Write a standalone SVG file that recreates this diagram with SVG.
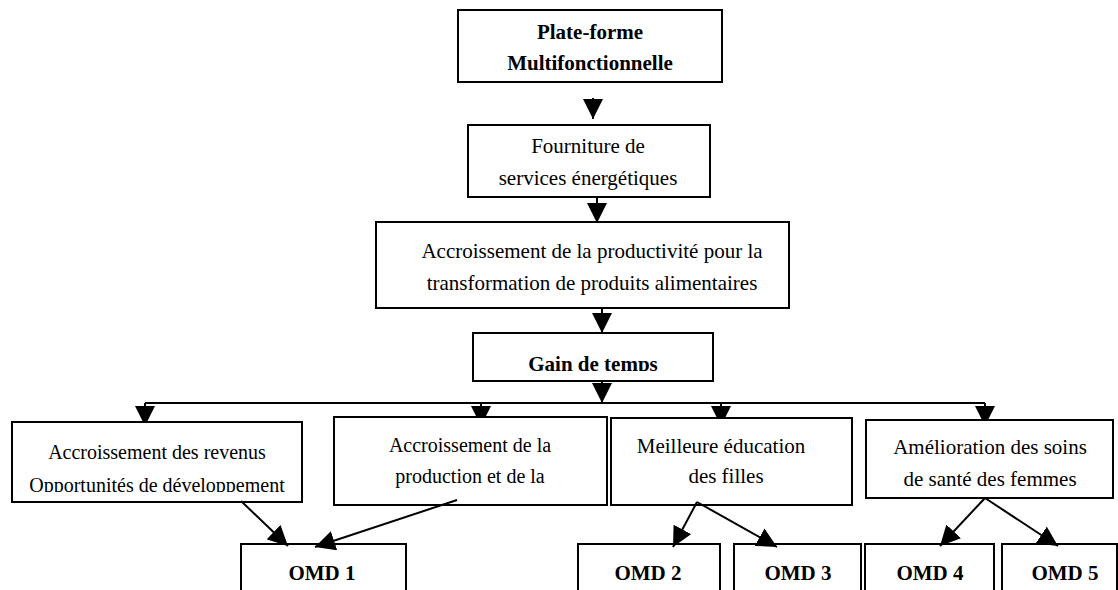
<svg xmlns="http://www.w3.org/2000/svg" width="1118" height="590" viewBox="0 0 1118 590">
<style>
.box{fill:#fff;stroke:#000;stroke-width:2}
.t{font-family:"Liberation Serif","Times New Roman",serif;font-size:21px;fill:#000;text-anchor:middle}
.b{font-weight:bold}
.s20{font-size:20px}
.c{stroke:#000;stroke-width:2;fill:none}
</style>
<defs>
<marker id="ah" markerUnits="userSpaceOnUse" markerWidth="20" markerHeight="20" refX="20" refY="10" orient="auto">
<path d="M0,0 L20,10 L0,20 z" fill="#000"/>
</marker>
<clipPath id="clipGain"><rect x="473" y="333" width="240" height="38"/></clipPath>
<clipPath id="clipB1"><rect x="12" y="422" width="290" height="70"/></clipPath>
</defs>
<rect width="1118" height="590" fill="#fff"/>
<g id="connectors">
<line class="c" x1="593" y1="98" x2="593" y2="119" marker-end="url(#ah)"/>
<line class="c" x1="597" y1="197" x2="597" y2="223" marker-end="url(#ah)"/>
<line class="c" x1="602" y1="308" x2="602" y2="333" marker-end="url(#ah)"/>
<line class="c" x1="602" y1="380" x2="602" y2="403" marker-end="url(#ah)"/>
<polyline class="c" points="145,403 985,403"/>
<line class="c" x1="145" y1="403" x2="145" y2="426" marker-end="url(#ah)"/>
<line class="c" x1="481" y1="403" x2="481" y2="426" marker-end="url(#ah)"/>
<line class="c" x1="721" y1="403" x2="721" y2="426" marker-end="url(#ah)"/>
<line class="c" x1="985" y1="403" x2="985" y2="426" marker-end="url(#ah)"/>
</g>
<g id="n-plateforme">
<rect class="box" x="458" y="10" width="264" height="72"/>
<text class="t b" x="590" y="39">Plate-forme</text>
<text class="t b" x="590" y="70">Multifonctionnelle</text>
</g>
<g id="n-fourniture">
<rect class="box" x="468" y="125" width="242" height="72"/>
<text class="t" x="588" y="153">Fourniture de</text>
<text class="t" x="588" y="185">services énergétiques</text>
</g>
<g id="n-productivite">
<rect class="box" x="376" y="222" width="413" height="86"/>
<text class="t" x="592" y="258">Accroissement de la productivité pour la</text>
<text class="t" x="592" y="290">transformation de produits alimentaires</text>
</g>
<g id="n-gain">
<rect class="box" x="473" y="333" width="240" height="48"/>
<text class="t b" x="593" y="371" clip-path="url(#clipGain)">Gain de temps</text>
</g>
<g id="n-revenus">
<rect class="box" x="12" y="422" width="290" height="80"/>
<text class="t s20" x="157" y="459">Accroissement des revenus</text>
<text class="t s20" x="157" y="492" clip-path="url(#clipB1)">Opportunités de développement</text>
</g>
<g id="n-production">
<rect class="box" x="334" y="417" width="273" height="88"/>
<text class="t s20" x="470" y="452">Accroissement de la</text>
<text class="t s20" x="470" y="483">production et de la</text>
</g>
<g id="n-education">
<rect class="box" x="611" y="418" width="241" height="87"/>
<text class="t" x="721" y="453">Meilleure éducation</text>
<text class="t" x="726" y="483">des filles</text>
</g>
<g id="n-sante">
<rect class="box" x="866" y="420" width="247" height="78"/>
<text class="t" x="990" y="454">Amélioration des soins</text>
<text class="t" x="990" y="486">de santé des femmes</text>
</g>
<g id="n-omd1">
<rect class="box" x="241" y="544" width="165" height="60"/>
<text class="t b" x="322" y="580">OMD 1</text>
</g>
<g id="n-omd2">
<rect class="box" x="578" y="544" width="142" height="60"/>
<text class="t b" x="648" y="580">OMD 2</text>
</g>
<g id="n-omd3">
<rect class="box" x="734" y="544" width="127" height="60"/>
<text class="t b" x="798" y="580">OMD 3</text>
</g>
<g id="n-omd4">
<rect class="box" x="865" y="544" width="129" height="60"/>
<text class="t b" x="930" y="580">OMD 4</text>
</g>
<g id="n-omd5">
<rect class="box" x="1002" y="544" width="115" height="60"/>
<text class="t b" x="1065" y="580">OMD 5</text>
</g>
<g id="connectors-lower">
<line class="c" x1="241" y1="501" x2="288" y2="546" marker-end="url(#ah)"/>
<line class="c" x1="457" y1="500" x2="315" y2="547" marker-end="url(#ah)"/>
<line class="c" x1="697" y1="502" x2="673" y2="547" marker-end="url(#ah)"/>
<line class="c" x1="697" y1="502" x2="777" y2="547" marker-end="url(#ah)"/>
<line class="c" x1="985" y1="498" x2="940" y2="546" marker-end="url(#ah)"/>
<line class="c" x1="985" y1="498" x2="1058" y2="546" marker-end="url(#ah)"/>
</g>
</svg>
